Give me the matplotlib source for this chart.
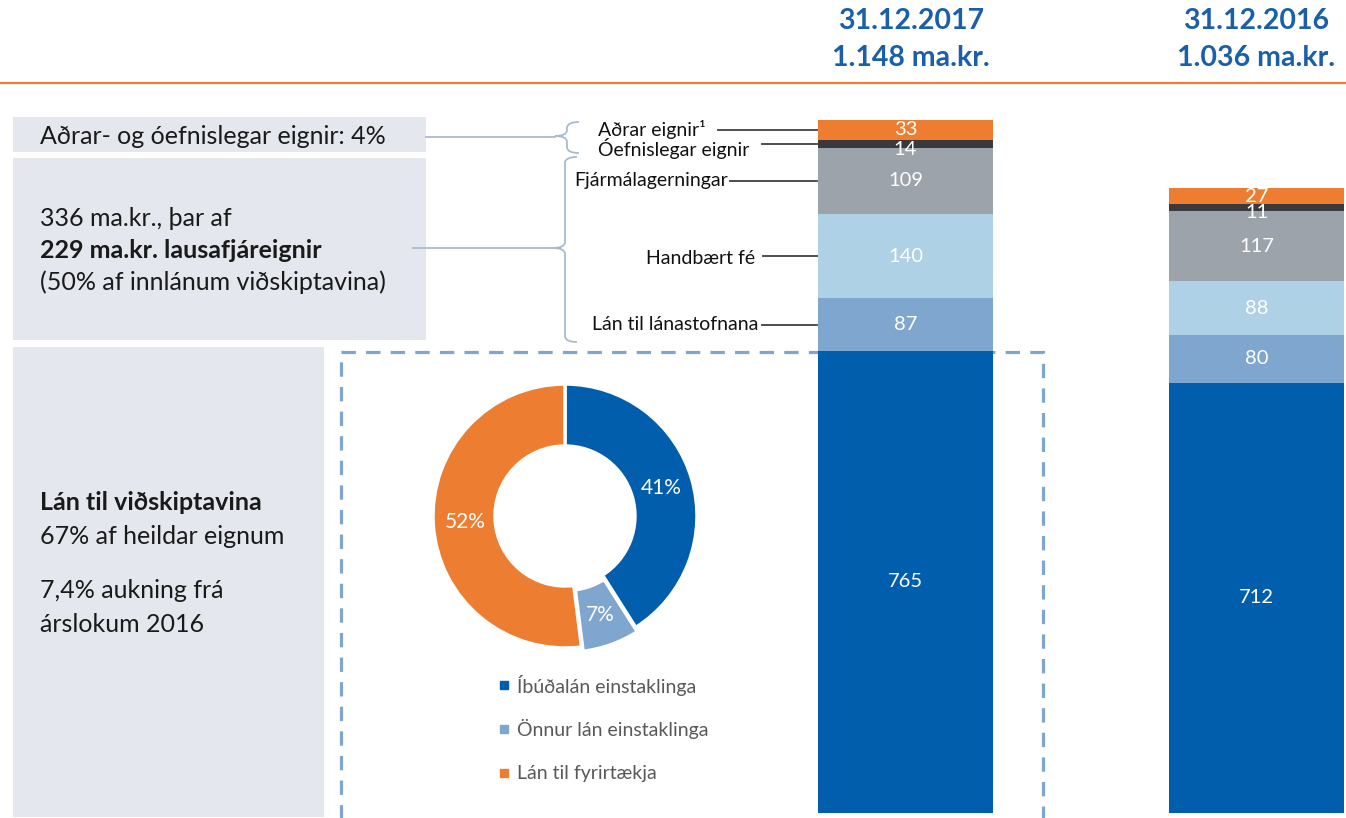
import numpy as np
import matplotlib.pyplot as plt
from matplotlib.path import Path
from matplotlib.patches import PathPatch, Rectangle
from matplotlib.transforms import blended_transform_factory

plt.rcParams['font.family'] = ['Lato', 'DejaVu Sans']

# ---- data ----
years = ['31.12.2017', '31.12.2016']
totals = ['1.148 ma.kr.', '1.036 ma.kr.']
seg_names = ['Lán til viðskiptavina', 'Lán til lánastofnana', 'Handbært fé',
             'Fjármálagerningar', 'Óefnislegar eignir', 'Aðrar eignir¹']
vals_2017 = [765, 87, 140, 109, 14, 33]
vals_2016 = [712, 80, 88, 117, 11, 27]
seg_colors = ['#005EAD', '#7FA6CE', '#AED1E6', '#9DA3AA', '#3A3A3D', '#ED7D31']

loan_labels = ['Íbúðalán einstaklinga', 'Önnur lán einstaklinga', 'Lán til fyrirtækja']
loan_share = [41, 7, 52]
loan_colors = ['#005EAD', '#7FA6CE', '#ED7D31']

box_small = 'Aðrar- og óefnislegar eignir: 4%'
box_mid = ['336 ma.kr., þar af', '229 ma.kr. lausafjáreignir', '(50% af innlánum viðskiptavina)']
box_big = ['Lán til viðskiptavina', '67% af heildar eignum', '7,4% aukning frá', 'árslokum 2016']

W, H = 1346, 818
blue_txt = '#1A5FAA'
box_col = '#E4E8EE'
brace_col = '#A8BBD0'
fs_left = 18

fig = plt.figure(figsize=(W / 100, H / 100), dpi=100)

# overlay in pixel coords for boxes, headers, braces
ov = fig.add_axes([0, 0, 1, 1])
ov.set_xlim(0, W)
ov.set_ylim(H, 0)
ov.axis('off')

# header
for cx, yr, tot in zip([911, 1256], years, totals):
    ov.text(cx, 21, yr, ha='center', va='center', fontsize=20.5, fontweight='bold', color=blue_txt)
    ov.text(cx, 58, tot, ha='center', va='center', fontsize=20.5, fontweight='bold', color=blue_txt)
ov.plot([0, W], [83, 83], color='#ED7D31', lw=1.6)

# left boxes
ov.add_patch(Rectangle((13, 117), 413, 35, color=box_col, lw=0))
ov.add_patch(Rectangle((13, 158), 413, 182, color=box_col, lw=0))
ov.add_patch(Rectangle((13, 347), 311, 470, color=box_col, lw=0))
ov.text(40, 136, box_small, ha='left', va='center', fontsize=fs_left, color='#1a1a1a')
ov.text(40, 218, box_mid[0], ha='left', va='center', fontsize=fs_left, color='#1a1a1a')
ov.text(40, 250, box_mid[1], ha='left', va='center', fontsize=fs_left, fontweight='bold', color='#1a1a1a')
ov.text(40, 282, box_mid[2], ha='left', va='center', fontsize=fs_left, color='#1a1a1a')
ov.text(40, 503, box_big[0], ha='left', va='center', fontsize=fs_left, fontweight='bold', color='#1a1a1a')
for y, t in zip([536, 591, 624], box_big[1:]):
    ov.text(40, y, t, ha='left', va='center', fontsize=fs_left, color='#1a1a1a')

# connectors box -> brace
ov.plot([426, 555], [137, 137], color=brace_col, lw=1.3)
ov.plot([413, 553], [248, 248], color=brace_col, lw=1.3)


def brace(xl, y1, y2, ym, w=24, r=6):
    xm = xl + w / 2
    xr = xl + w
    verts = [(xr, y1), (xm, y1), (xm, y1 + r), (xm, ym - r), (xm, ym), (xl, ym),
             (xm, ym), (xm, ym + r), (xm, y2 - r), (xm, y2), (xr, y2)]
    codes = [Path.MOVETO, Path.CURVE3, Path.CURVE3, Path.LINETO, Path.CURVE3, Path.CURVE3,
             Path.CURVE3, Path.CURVE3, Path.LINETO, Path.CURVE3, Path.CURVE3]
    ov.add_patch(PathPatch(Path(verts, codes), fill=False, edgecolor=brace_col, lw=1.3))


brace(555, 122, 153, 136)
brace(553, 157, 342, 248)

# dashed frame around loans
ov.add_patch(Rectangle((341, 352), 702, 470, fill=False, edgecolor='#7FA6CE',
                       lw=2.3, linestyle=(0, (4.5, 3.2))))

# ---- stacked bars ----
scale = 0.604  # px per unit
ax = fig.add_axes([730 / W, 5 / H, 616 / W, 1300 * scale / H])
ax.set_xlim(-0.5, 1.255)
ax.set_ylim(0, 1300)
ax.axis('off')
ax.patch.set_alpha(0)

xpos = np.array([0, 1])
bottom = np.zeros(2)
mids_2017 = []
for i, col in enumerate(seg_colors):
    v = np.array([vals_2017[i], vals_2016[i]])
    ax.bar(xpos, v, bottom=bottom, width=0.5, color=col, edgecolor='none')
    for j in range(2):
        yc = bottom[j] + v[j] / 2
        if i == 4:
            yc -= 9
        ax.text(xpos[j], yc, str(v[j]), ha='center', va='center', color='white', fontsize=14.5)
    mids_2017.append(bottom[0] + v[0] / 2)
    bottom = bottom + v

# segment labels with leader lines for 2017 bar
tr = blended_transform_factory(ov.transData, ax.transData)
lab_x = [None, 758, 755, 728, 598, 598]
lab_ha = [None, 'right', 'right', 'right', 'left', 'left']
line_x0 = [None, 762, 763, 730, 762, 718]
lab_dy = [0, 0, -4, 0, -8, 0]
for i in range(1, 6):
    ax.plot([line_x0[i], 817], [mids_2017[i], mids_2017[i]], color='#404040', lw=1.3,
            transform=tr, clip_on=False)
    ax.text(lab_x[i], mids_2017[i] + lab_dy[i], seg_names[i], ha=lab_ha[i], va='center',
            fontsize=14, color='#111111', transform=tr, clip_on=False)

# ---- donut ----
cx, cy, R = 565, 516, 132
side = 300
dx = fig.add_axes([(cx - side / 2) / W, (H - cy - side / 2) / H, side / W, side / H])
wedges, _, autotexts = dx.pie(loan_share, colors=loan_colors, startangle=90, counterclock=False,
                              radius=1, explode=[0, 0.035, 0],
                              wedgeprops=dict(width=0.47, edgecolor='white', linewidth=2.5),
                              autopct='%d%%', pctdistance=0.76,
                              textprops=dict(color='white', fontsize=15))
lim = side / 2 / R
dx.set_xlim(-lim, lim)
dx.set_ylim(-lim, lim)
dx.set_aspect('equal')
dx.axis('off')

# legend
for y, lab, col in zip([685, 729, 773], loan_labels, loan_colors):
    ov.plot([504], [y], marker='s', markersize=6, color=col, linestyle='none')
    ov.text(517, y, lab, ha='left', va='center', fontsize=14, color='#595959')

fig.savefig('out.png', dpi=100)
